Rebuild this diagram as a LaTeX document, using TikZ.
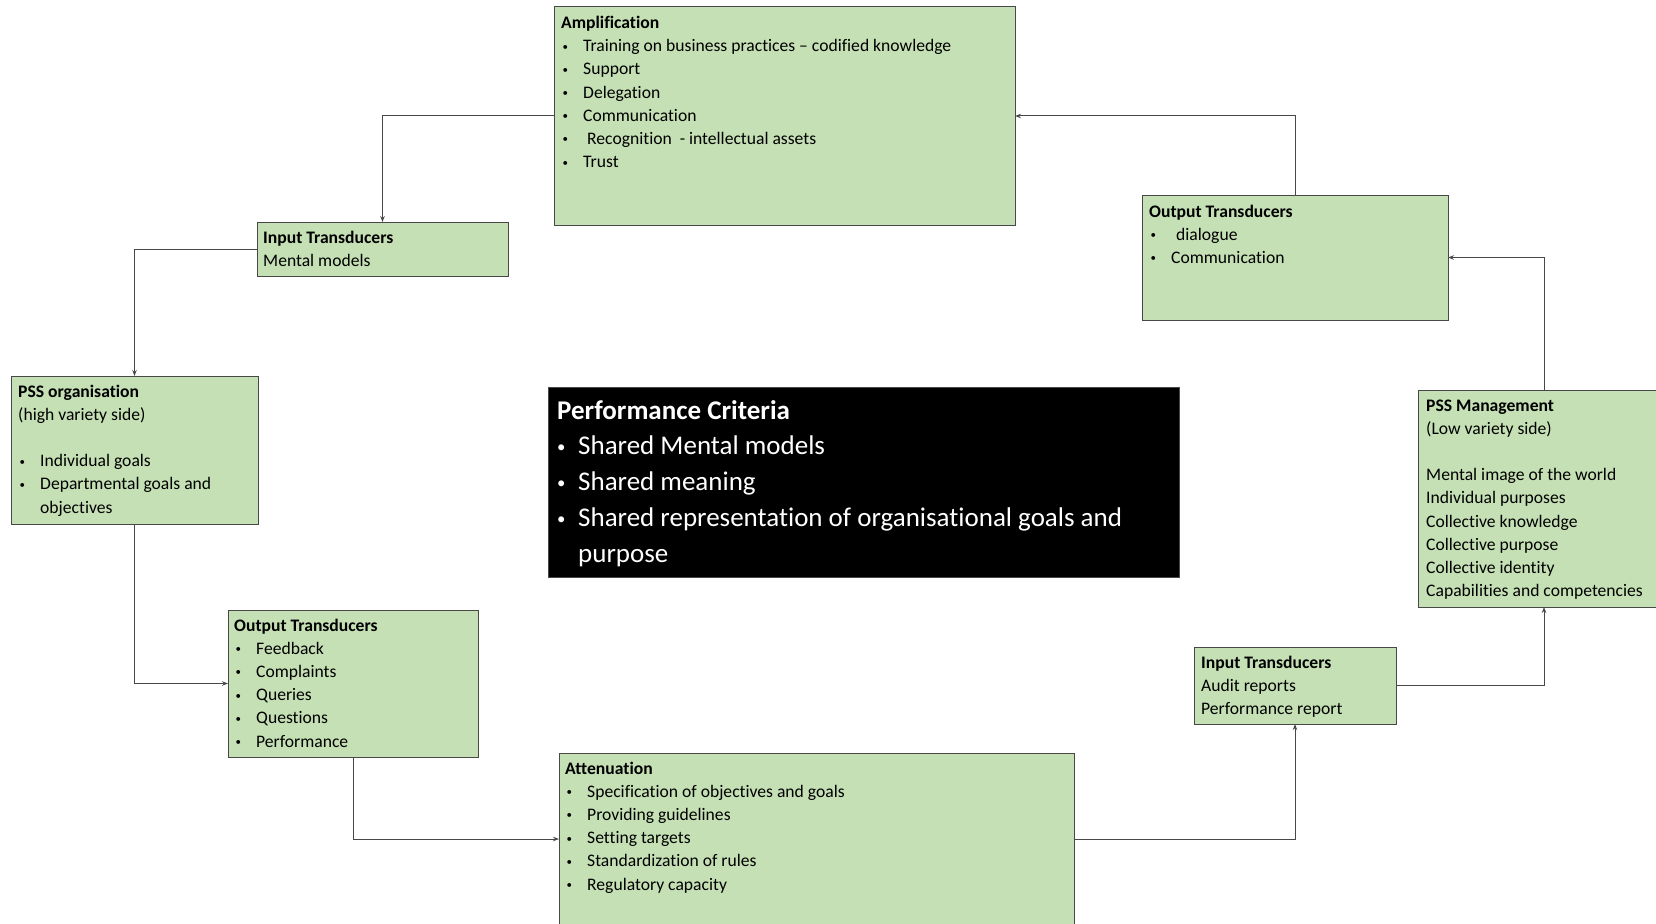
\documentclass[tikz,border=0pt]{standalone}
\usepackage{fontspec}
\setmainfont{Carlito}[Ligatures={TeX,NoCommon}]
\usetikzlibrary{arrows.meta}
\definecolor{boxgreen}{HTML}{C5E0B4}
\definecolor{edge}{HTML}{484848}
% bullet items: small boxes and the large criteria panel
\newcommand{\smallbul}{\raisebox{1.6pt}{\scalebox{0.62}{\textbullet}}}
\newcommand{\itm}[1]{\makebox[22pt][l]{\hspace{1.5pt}\smallbul}#1}
\newcommand{\bigitm}[1]{\makebox[21pt][l]{\raisebox{2.4pt}{\scalebox{0.62}{\textbullet}}}#1}
\begin{document}
\begin{tikzpicture}[x=1pt,y=-1pt,
  panel/.style={draw=edge, line width=1pt, fill=boxgreen, anchor=north west,
    inner sep=0pt, outer sep=0pt},
  body/.style={anchor=base west, inner sep=0pt, font=\fontsize{17.6}{23.2}\selectfont},
  bigbody/.style={anchor=base west, inner sep=0pt, text=white,
    font=\fontsize{27}{35.9}\selectfont},
  link/.style={draw=edge, line width=1pt, -{Stealth[length=6pt,width=4.5pt]}}]
\useasboundingbox (0,0) rectangle (1656,923);
\fill[white] (0,0) rectangle (1656,923);
\begin{scope}
\clip (0,0) rectangle (1656,923);

% ---- boxes ----
\node[panel, minimum width=461pt, minimum height=218pt] (amp) at (554,7) {};
\node[panel, minimum width=251pt, minimum height=54pt] (inL) at (257,222) {};
\node[panel, minimum width=247pt, minimum height=148pt] (org) at (11,376) {};
\node[panel, minimum width=250pt, minimum height=147pt] (outL) at (228,610) {};
\node[panel, minimum width=515pt, minimum height=172pt] (att) at (559,753) {};
\node[panel, minimum width=202pt, minimum height=77pt] (inR) at (1194,647) {};
\node[panel, minimum width=252pt, minimum height=217pt] (mgmt) at (1418,390) {};
\node[panel, minimum width=306pt, minimum height=125pt] (outR) at (1142,195) {};
\node[panel, fill=black, minimum width=631pt, minimum height=190pt] (crit) at (548,387) {};

% ---- box texts ----
\node[body] (ampText) at (561,28.5) {\parbox[t]{450pt}{\textbf{Amplification}\\
  \itm{Training on business practices – codified knowledge}\\
  \itm{Support}\\
  \itm{Delegation}\\
  \itm{Communication}\\
  \itm{\hspace{4pt}Recognition \ - intellectual assets}\\
  \itm{Trust}}};
\node[body] (inLText) at (263,243) {\parbox[t]{240pt}{\textbf{Input Transducers}\\
  Mental models}};
\node[body] (orgText) at (18,397) {\parbox[t]{240pt}{\textbf{PSS organisation}\\
  (high variety side)\\
  ~\\
  \itm{Individual goals}\\
  \itm{Departmental goals and}\\
  \hspace*{22pt}objectives}};
\node[body] (outLText) at (234,631) {\parbox[t]{240pt}{\textbf{Output Transducers}\\
  \itm{Feedback}\\
  \itm{Complaints}\\
  \itm{Queries}\\
  \itm{Questions}\\
  \itm{Performance}}};
\node[body] (attText) at (565,774) {\parbox[t]{500pt}{\textbf{Attenuation}\\
  \itm{Specification of objectives and goals}\\
  \itm{Providing guidelines}\\
  \itm{Setting targets}\\
  \itm{Standardization of rules}\\
  \itm{Regulatory capacity}}};
\node[body] (inRText) at (1201,668) {\parbox[t]{200pt}{\textbf{Input Transducers}\\
  Audit reports\\
  Performance report}};
\node[body] (mgmtText) at (1426,411) {\parbox[t]{250pt}{\textbf{PSS Management}\\
  (Low variety side)\\
  ~\\
  Mental image of the world\\
  Individual purposes\\
  Collective knowledge\\
  Collective purpose\\
  Collective identity\\
  Capabilities and competencies}};
\node[body] (outRText) at (1149,217) {\parbox[t]{290pt}{\textbf{Output Transducers}\\
  \itm{\hspace{5pt}dialogue}\\
  \itm{Communication}}};
\node[bigbody] (critText) at (557,419) {\parbox[t]{620pt}{\textbf{Performance Criteria}\\
  \bigitm{Shared Mental models}\\
  \bigitm{Shared meaning}\\
  \bigitm{Shared representation of organisational goals and}\\
  \hspace*{21pt}purpose}};

% ---- feedback loop ----
\draw[link] (amp.west) -| (inL.north);
\draw[link] (inL.west) -| (org.north);
\draw[link] (org.south) |- (outL.west);
\draw[link] (outL.south) |- (att.west);
\draw[link] (att.east) -| (inR.south);
\draw[link] (inR.east) -| (mgmt.south);
\draw[link] (mgmt.north) |- (outR.east);
\draw[link] (outR.north) |- (amp.east);
\end{scope}
\end{tikzpicture}
\end{document}
